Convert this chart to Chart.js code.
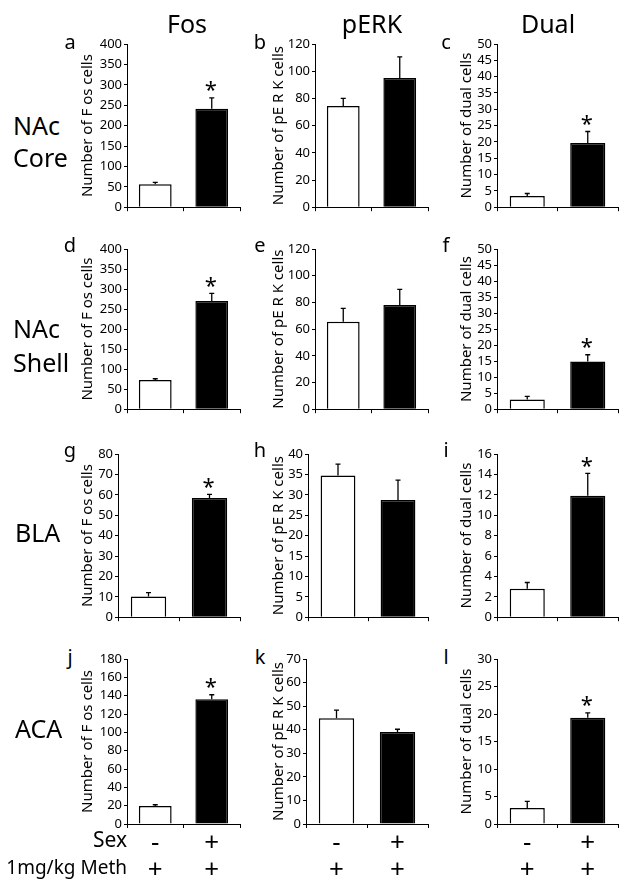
<!DOCTYPE html>
<html><head><meta charset="utf-8">
<script src="https://cdn.jsdelivr.net/npm/chart.js@4"></script>
<style>
body{margin:0;background:#fff;}
#fig{position:relative;width:627px;height:890px;font-family:"Noto Sans",sans-serif;color:#000;overflow:hidden;}
#fig canvas{position:absolute;}
.t{position:absolute;line-height:1;white-space:nowrap;}
</style></head><body><div id="fig"></div>
<script>
// categories
var groups = ['Meth', 'Sex + Meth'];
var sexRow = ['-', '+'];
var methRow = ['+', '+'];
var regions = ['NAc Core', 'NAc Shell', 'BLA', 'ACA'];
var measures = ['Fos', 'pERK', 'Dual'];
var axisTitles = ['Number of F os cells', 'Number of pE R K cells', 'Number of dual cells'];
var letters = ['a','b','c','d','e','f','g','h','i','j','k','l'];

// values per region (NAc Core, NAc Shell, BLA, ACA)
var fosMeth = [56, 73, 10.2, 19.7];
var fosMethErr = [5, 3, 1.8, 1.3];
var fosSex = [241, 270, 58.4, 136];
var fosSexErr = [27, 19, 1.8, 5];
var perkMeth = [74.5, 65.5, 34.7, 44.9];
var perkMethErr = [5.5, 10, 2.8, 3.4];
var perkSex = [95, 78, 28.7, 39];
var perkSexErr = [15.6, 11.7, 4.9, 1.2];
var dualMeth = [3.4, 3.0, 2.8, 2.9];
var dualMethErr = [0.8, 1.0, 0.6, 1.2];
var dualSex = [19.7, 14.9, 11.9, 19.3];
var dualSexErr = [3.5, 2.1, 2.2, 0.9];

// significance (* over Sex + Meth bar)
var fosSig = [true, true, true, true];
var perkSig = [false, false, false, false];
var dualSig = [true, true, true, true];

// axis ranges
var fosMax = [400, 400, 80, 180], fosStep = [50, 50, 10, 20];
var perkMax = [120, 120, 40, 70], perkStep = [20, 20, 5, 10];
var dualMax = [50, 50, 16, 30], dualStep = [5, 5, 2, 5];

// page layout (pixels)
var rowTop = [44, 249, 454, 659];
var rowBottom = [211, 413, 621, 824];
var colRight = [240, 428, 618];
var colTitleX = [88, 279, 467];
var axisX = [[127, 315, 497], [127, 315, 497], [118, 308, 497], [127, 306, 497]];
var FONT = '"Noto Sans", sans-serif';

var fig = document.getElementById('fig');

function addText(txt, x, baseline, size, align) {
    var d = document.createElement('div');
    d.className = 't';
    d.textContent = txt;
    d.style.fontSize = size + 'px';
    d.style.top = (baseline - 0.888 * size) + 'px';
    if (align === 'center') {
        d.style.left = x + 'px';
        d.style.transform = 'translateX(-50%)';
    } else if (align === 'right') {
        d.style.right = (627 - x) + 'px';
    } else {
        d.style.left = x + 'px';
    }
    fig.appendChild(d);
}

var errorBars = {
    id: 'errorBars',
    afterDatasetsDraw: function(chart) {
        var ctx = chart.ctx;
        var ds = chart.data.datasets[0];
        var meta = chart.getDatasetMeta(0);
        var y = chart.scales.y;
        ctx.save();
        ctx.strokeStyle = '#000';
        ctx.lineWidth = 1.3;
        meta.data.forEach(function(bar, i) {
            var top = y.getPixelForValue(ds.data[i]);
            var e = y.getPixelForValue(ds.data[i] + ds.errors[i]);
            ctx.beginPath();
            ctx.moveTo(bar.x, top);
            ctx.lineTo(bar.x, e);
            ctx.moveTo(bar.x - 2.5, e);
            ctx.lineTo(bar.x + 2.5, e);
            ctx.stroke();
            if (ds.sig[i]) {
                ctx.fillStyle = '#000';
                ctx.font = '22px ' + FONT;
                ctx.textAlign = 'center';
                ctx.textBaseline = 'alphabetic';
                ctx.fillText('*', bar.x - 1, e - 0.5);
            }
        });
        ctx.restore();
    }
};

function makeChart(r, c, vals, errs, sig, max, step) {
    var left = colTitleX[c] - 12;
    var padTop = 10, padRight = 6;
    var xH = r === 3 ? 62 : 6;
    var w = colRight[c] - left + padRight;
    var h = rowBottom[r] - rowTop[r] + padTop + xH;
    var yW = axisX[r][c] - left;
    var cv = document.createElement('canvas');
    cv.width = w; cv.height = h;
    cv.style.left = left + 'px';
    cv.style.top = (rowTop[r] - padTop) + 'px';
    fig.appendChild(cv);
    var labels = sexRow.map(function(s, i) { return [s, methRow[i]]; });
    new Chart(cv, {
        type: 'bar',
        data: {
            labels: labels,
            datasets: [{
                label: groups.join(' / '),
                data: vals,
                errors: errs,
                sig: [false, sig],
                backgroundColor: ['#fff', '#000'],
                borderColor: '#000',
                borderWidth: 1.5,
                barPercentage: 0.58,
                categoryPercentage: 1
            }]
        },
        options: {
            responsive: false,
            animation: false,
            devicePixelRatio: 1,
            layout: { padding: { top: padTop, right: padRight, left: 0, bottom: 0 } },
            plugins: { legend: { display: false }, tooltip: { enabled: false } },
            scales: {
                x: {
                    afterFit: function(s) { s.height = xH; },
                    grid: { drawOnChartArea: false, tickLength: 4, color: '#000' },
                    border: { color: '#000', width: 1 },
                    ticks: {
                        display: r === 3,
                        color: '#000',
                        padding: 2,
                        maxRotation: 0,
                        font: { family: FONT, size: 26, lineHeight: 1.04 }
                    }
                },
                y: {
                    min: 0, max: max,
                    afterFit: function(s) { s.width = yW; },
                    grid: { drawOnChartArea: false, tickLength: 3, color: '#000' },
                    border: { color: '#000', width: 1 },
                    ticks: { stepSize: step, autoSkip: false, color: '#000', padding: 2, font: { family: FONT, size: 13 } },
                    title: {
                        display: true,
                        text: axisTitles[c],
                        color: '#000',
                        padding: { top: 3, bottom: 0 },
                        font: { family: FONT, size: 15 }
                    }
                }
            }
        },
        plugins: [errorBars]
    });
}

for (var r = 0; r < 4; r++) {
    makeChart(r, 0, [fosMeth[r], fosSex[r]], [fosMethErr[r], fosSexErr[r]], fosSig[r], fosMax[r], fosStep[r]);
    makeChart(r, 1, [perkMeth[r], perkSex[r]], [perkMethErr[r], perkSexErr[r]], perkSig[r], perkMax[r], perkStep[r]);
    makeChart(r, 2, [dualMeth[r], dualSex[r]], [dualMethErr[r], dualSexErr[r]], dualSig[r], dualMax[r], dualStep[r]);
}

// column headers
addText(measures[0], 187, 33, 25, 'center');
addText(measures[1], 372, 33, 25, 'center');
addText(measures[2], 548, 33, 25, 'center');

// panel letters
var letterX = [70, 260, 446];
var letterY = [50, 253, 458, 665];
letters.forEach(function(l, i) {
    addText(l, letterX[i % 3], letterY[Math.floor(i / 3)], 20, 'center');
});

// row labels
addText('NAc', 13, 135, 25);
addText('Core', 13, 167, 25);
addText('NAc', 13, 338, 25);
addText('Shell', 13, 372, 25);
addText(regions[2], 15, 542, 25);
addText(regions[3], 15, 738, 25);

// bottom row labels
addText('Sex', 127, 848, 21, 'right');
addText('1mg/kg Meth', 127, 875, 19, 'right');
</script>
</body></html>
